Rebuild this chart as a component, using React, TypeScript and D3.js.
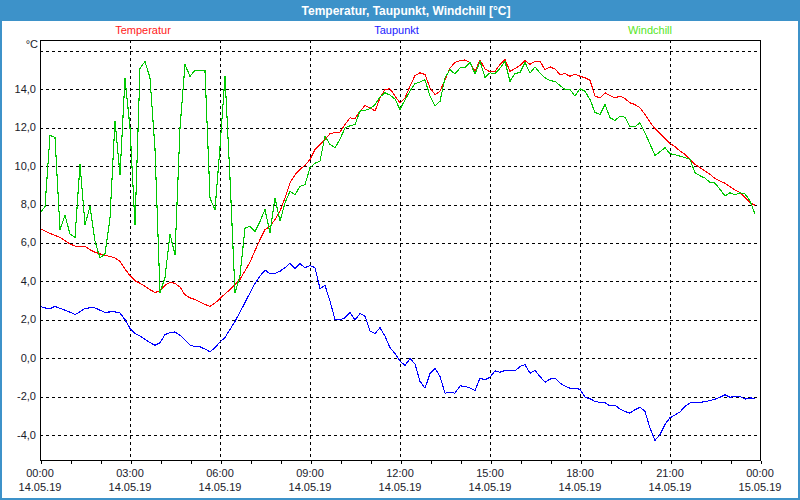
import { useRef, useEffect } from "react";
import * as d3 from "d3";

// 10-minute readings, 14.05.19 00:00 .. 23:50
const temperatur = [
  6.75, 6.62, 6.5, 6.4, 6.29, 6.12,
  5.95, 5.84, 5.84, 5.83, 5.65, 5.52,
  5.43, 5.36, 5.3, 5.22, 5.05, 4.65,
  4.3, 4.04, 3.9, 3.75, 3.57, 3.42,
  3.52, 3.8, 3.95, 3.9, 3.7, 3.3,
  3.15, 3.05, 2.93, 2.8, 2.7, 2.87,
  3.1, 3.35, 3.58, 3.85, 4.1, 4.55,
  5.0, 5.6, 6.18, 6.7, 6.87, 7.22,
  7.65, 8.35, 9.13, 9.55, 9.84, 10.04,
  10.35, 10.87, 11.13, 11.39, 11.69, 11.75,
  11.77, 12.17, 12.52, 12.47, 12.87, 13.15,
  13.04, 12.87, 13.56, 13.99, 14.03, 13.65,
  13.3, 13.56, 14.16, 14.72, 14.86, 14.77,
  14.08, 13.73, 13.9, 14.5, 15.1, 15.4,
  15.5, 15.53, 15.4, 14.94, 15.52, 15.06,
  14.91, 14.94, 15.29, 15.55, 14.94, 15.08,
  15.25, 15.5, 15.3, 15.46, 15.46, 15.03,
  15.17, 15.06, 14.77, 14.82, 14.68, 14.79,
  14.68, 14.6, 14.48, 13.65, 13.56, 13.82,
  13.68, 13.56, 13.65, 13.52, 13.3, 13.21,
  13.04, 12.69, 12.29, 11.95, 11.71, 11.43,
  11.19, 11.01, 10.79, 10.61, 10.35, 10.1,
  9.92, 9.75, 9.58, 9.35, 9.23, 9.11,
  8.94, 8.76, 8.62, 8.36, 8.1, 7.97,
];

const taupunkt = [
  2.7, 2.62, 2.57, 2.7, 2.6, 2.5,
  2.4, 2.27, 2.42, 2.6, 2.62, 2.62,
  2.5, 2.39, 2.41, 2.41, 2.36, 2.01,
  1.55, 1.28, 1.15, 0.98, 0.82, 0.67,
  0.8, 1.23, 1.33, 1.37, 1.2, 0.95,
  0.68, 0.6, 0.59, 0.48, 0.34, 0.55,
  0.85, 1.08, 1.5, 1.92, 2.4, 2.9,
  3.4, 3.9, 4.27, 4.59, 4.4, 4.42,
  4.53, 4.71, 4.95, 4.66, 4.93, 4.71,
  4.83, 4.71, 3.62, 3.79, 2.97, 2.02,
  1.99, 2.11, 2.37, 1.99, 2.33, 2.19,
  1.41, 1.29, 1.59, 1.15, 0.55, 0.25,
  -0.15, -0.38, -0.02, -0.3, -1.2, -1.56,
  -0.8, -0.52, -0.95, -1.82, -1.77, -1.82,
  -1.44, -1.46, -1.55, -1.68, -1.04, -1.13,
  -0.99, -0.66, -0.73, -0.64, -0.65, -0.66,
  -0.43, -0.33, -0.78, -0.64, -0.95, -1.25,
  -1.09, -1.04, -1.3, -1.45, -1.56, -1.58,
  -1.61, -2.03, -2.11, -2.25, -2.3, -2.32,
  -2.48, -2.44, -2.65, -2.78, -2.86, -2.68,
  -2.55, -2.77, -3.64, -4.28, -3.98, -3.45,
  -3.1, -2.95, -2.8, -2.51, -2.33, -2.29,
  -2.29, -2.27, -2.2, -2.14, -2.03, -1.9,
  -2.03, -2.0, -1.99, -2.13, -2.07, -2.08,
];

const windchill = [
  7.56, 7.9, 11.6, 11.5, 6.7, 7.44,
  6.47, 6.3, 10.1, 6.95, 7.9, 6.1,
  5.22, 5.43, 7.3, 12.36, 9.55, 14.58,
  12.0, 6.95, 15.1, 15.45, 14.6, 10.9,
  3.4, 4.2, 6.47, 5.39, 12.0, 15.3,
  14.67, 15.0, 15.0, 14.96, 8.34, 7.73,
  11.0, 14.67, 9.38, 3.4, 4.3, 6.78,
  6.87, 6.6, 7.13, 7.74, 6.53, 8.35,
  7.13, 8.09, 8.69, 8.52, 8.95, 9.04,
  9.92, 10.15, 10.27, 11.57, 11.13, 10.96,
  11.4, 12.0, 12.1, 12.17, 12.87, 12.9,
  13.0, 13.2, 13.6, 13.82, 13.7, 13.5,
  12.95, 13.45, 13.9, 14.3, 14.38, 14.5,
  13.65, 13.13, 13.38, 14.6, 15.03, 14.8,
  15.12, 15.15, 15.41, 14.8, 15.46, 14.63,
  14.86, 14.82, 15.1, 15.46, 14.42, 14.82,
  14.88, 15.4, 14.85, 15.17, 14.85, 14.6,
  14.45, 14.42, 14.2, 13.99, 13.99, 13.65,
  14.03, 13.9, 13.47, 12.8, 12.69, 13.21,
  12.52, 12.38, 12.6, 12.55, 12.05, 12.05,
  12.26, 11.74, 11.15, 10.56, 10.75, 10.96,
  10.65, 10.6, 10.52, 10.45, 10.35, 9.66,
  9.5, 9.38, 9.15, 9.12, 8.8, 8.45,
  8.62, 8.5, 8.62, 8.55, 8.2, 7.5,
];

const seriesNames = ["Temperatur", "Taupunkt", "Windchill"];
const lineColors = ["#ff0000", "#0000ff", "#00c800"];
const legendColors = ["#ff2020", "#2020ff", "#55e61e"];
const yTicks = [-4, -2, 0, 2, 4, 6, 8, 10, 12, 14, 16];
const yLabelTicks = [-4, -2, 0, 2, 4, 6, 8, 10, 12, 14];
const startTime = new Date(2019, 4, 14, 0, 0);
const endTime = new Date(2019, 4, 15, 0, 0);
const title = "Temperatur, Taupunkt, Windchill [°C]";
const unit = "°C";

const FONT = '"Liberation Sans Narrow", "Liberation Sans", Arial, sans-serif';
const BLUE = "#3d92c9";

const App = () => {
  const ref = useRef<SVGSVGElement>(null);
  const width = 800;
  const height = 500;

  useEffect(() => {
    if (!ref.current) return;
    const svg = d3.select(ref.current);
    svg.selectAll("*").remove();

    const left = 40, right = 760, top = 40, bottom = 460;

    const x = d3.scaleTime().domain([startTime, endTime]).range([left, right]);
    const y = d3.scaleLinear().domain([-5.3, 16.57]).range([bottom, top]);
    const times = temperatur.map((_, i) => d3.timeMinute.offset(startTime, i * 10));

    svg.append("rect").attr("width", width).attr("height", height).attr("fill", "#ffffff");

    // title bar
    svg.append("rect").attr("x", 0).attr("y", 0).attr("width", width).attr("height", 21).attr("fill", BLUE);
    svg.append("text")
      .attr("x", width / 2 + 6)
      .attr("y", 14.5)
      .attr("text-anchor", "middle")
      .style("font-family", FONT)
      .style("font-size", "12px")
      .style("font-weight", "bold")
      .style("fill", "#ffffff")
      .text(title);

    // legend
    const legendX = d3.scalePoint().domain(seriesNames).range([143, 650]);
    svg.append("g")
      .selectAll("text")
      .data(seriesNames)
      .enter()
      .append("text")
      .attr("x", (d) => legendX(d))
      .attr("y", 34)
      .attr("text-anchor", "middle")
      .style("font-family", FONT)
      .style("font-size", "11px")
      .style("fill", (d, i) => legendColors[i])
      .text((d) => d);

    // grid
    const grid = svg.append("g")
      .attr("stroke", "#000")
      .attr("stroke-dasharray", "3,3")
      .attr("shape-rendering", "crispEdges");
    grid.selectAll("line.h")
      .data(yTicks)
      .enter()
      .append("line")
      .attr("x1", left).attr("x2", right)
      .attr("y1", (d) => Math.round(y(d)) + 0.5)
      .attr("y2", (d) => Math.round(y(d)) + 0.5);
    const vTicks = x.ticks(d3.timeHour.every(3)).filter((d) => +d > +startTime && +d < +endTime);
    grid.selectAll("line.v")
      .data(vTicks)
      .enter()
      .append("line")
      .attr("x1", (d) => Math.round(x(d)) + 0.5).attr("x2", (d) => Math.round(x(d)) + 0.5)
      .attr("y1", top).attr("y2", bottom);

    // series
    const line = d3.line<number>()
      .x((d, i) => x(times[i]))
      .y((d) => y(d));
    [temperatur, taupunkt, windchill].forEach((s, i) => {
      svg.append("path")
        .datum(s)
        .attr("d", line)
        .attr("fill", "none")
        .attr("stroke", lineColors[i])
        .attr("stroke-width", 1.1)
        .attr("shape-rendering", "crispEdges");
    });

    // frame
    svg.append("rect")
      .attr("x", left + 0.5).attr("y", top + 0.5)
      .attr("width", right - left).attr("height", bottom - top)
      .attr("fill", "none").attr("stroke", "#000").attr("shape-rendering", "crispEdges");

    // x axis
    const xAxis = svg.append("g")
      .attr("transform", `translate(0.5,${bottom + 0.5})`)
      .call(
        d3.axisBottom(x)
          .ticks(d3.timeHour.every(1))
          .tickSize(3)
          .tickFormat(() => "")
      );
    xAxis.select(".domain").remove();
    xAxis.selectAll("line").attr("shape-rendering", "crispEdges");

    const labelTicks = x.ticks(d3.timeHour.every(3));
    const xl = svg.append("g")
      .style("font-family", FONT)
      .style("font-size", "11px")
      .style("fill", "#1a1a2a")
      .attr("text-anchor", "middle");
    xl.selectAll("text.t")
      .data(labelTicks)
      .enter()
      .append("text")
      .attr("x", (d) => x(d))
      .attr("y", 477)
      .text((d) => d3.timeFormat("%H:%M")(d));
    xl.selectAll("text.d")
      .data(labelTicks)
      .enter()
      .append("text")
      .attr("x", (d) => x(d))
      .attr("y", 491)
      .text((d) => d3.timeFormat("%d.%m.%y")(d));

    // y labels
    const fmt = (v: number) => d3.format(".1f")(v).replace(".", ",").replace("\u2212", "-");
    svg.append("g")
      .style("font-family", FONT)
      .style("font-size", "11px")
      .style("fill", "#1a1a2a")
      .attr("text-anchor", "end")
      .selectAll("text")
      .data(yLabelTicks)
      .enter()
      .append("text")
      .attr("x", 36)
      .attr("y", (d) => y(d) + 3.5)
      .text((d) => fmt(d));
    svg.append("text")
      .attr("x", 38)
      .attr("y", 48)
      .attr("text-anchor", "end")
      .style("font-family", FONT)
      .style("font-size", "11px")
      .style("fill", "#1a1a2a")
      .text(unit);

    // outer border
    svg.append("rect")
      .attr("x", 1).attr("y", 1)
      .attr("width", width - 2).attr("height", height - 2)
      .attr("fill", "none").attr("stroke", BLUE).attr("stroke-width", 2);
  }, []);

  return (
    <svg
      ref={ref}
      width={width}
      height={height}
      style={{ position: "absolute", left: 0, top: 0, display: "block" }}
    />
  );
};

export default App;
